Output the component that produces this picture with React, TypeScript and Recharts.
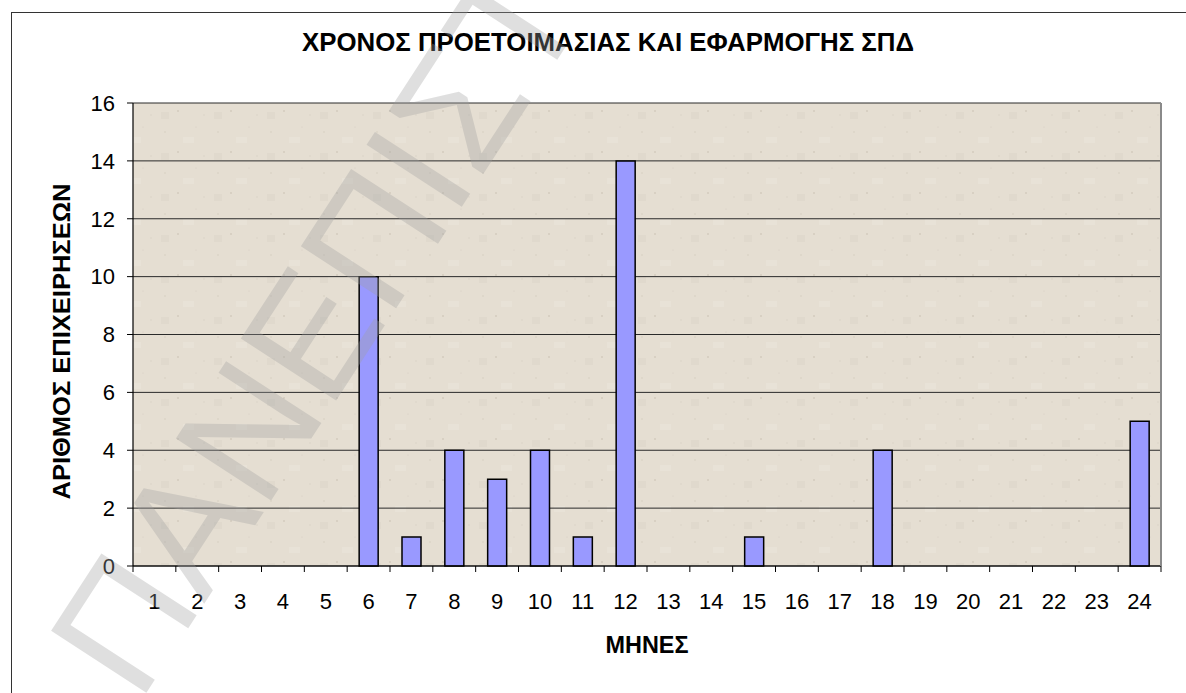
import React from 'react';
import { BarChart, Bar, XAxis, YAxis, CartesianGrid, Label } from 'recharts';

const months = ['1', '2', '3', '4', '5', '6', '7', '8', '9', '10', '11', '12', '13', '14', '15', '16', '17', '18', '19', '20', '21', '22', '23', '24'];
const companies = [0, 0, 0, 0, 0, 10, 1, 4, 3, 4, 1, 14, 0, 0, 1, 0, 0, 4, 0, 0, 0, 0, 0, 5];
const yTicks = [0, 2, 4, 6, 8, 10, 12, 14, 16];

const chartTitle = 'ΧΡΟΝΟΣ ΠΡΟΕΤΟΙΜΑΣΙΑΣ ΚΑΙ ΕΦΑΡΜΟΓΗΣ ΣΠΔ';
const xTitle = 'ΜΗΝΕΣ';
const yTitle = 'ΑΡΙΘΜΟΣ ΕΠΙΧΕΙΡΗΣΕΩΝ';
const watermark = 'ΠΑΝΕΠΙΣΤΗΜΙΟ';

const data = months.map((m, i) => ({ month: m, count: companies[i] }));

const FONT = '"Liberation Sans", Arial, sans-serif';

// ticks sit between the categories, the label in the middle (Excel style)
const MonthTick = (props: any) => {
  const { x, y, payload, index, visibleTicksCount } = props;
  const half = payload && payload.offset ? payload.offset : 21.4;
  const top = y - 27;
  const isLast = index === visibleTicksCount - 1;
  return (
    <g>
      <line x1={x - half} x2={x - half} y1={top} y2={top + 6} stroke="#000" strokeWidth={1} />
      {isLast && <line x1={x + half} x2={x + half} y1={top} y2={top + 6} stroke="#000" strokeWidth={1} />}
      <text x={x} y={y} dy="0.71em" textAnchor="middle" fontSize={22} fill="#000" fontFamily={FONT}>
        {payload.value}
      </text>
    </g>
  );
};

export default function App() {
  return (
    <div style={{ position: 'absolute', left: 0, top: 0, width: 1186, height: 693, overflow: 'hidden', background: '#fff' }}>
      {/* paper texture for the plot area */}
      <svg width={0} height={0} style={{ position: 'absolute' }}>
        <defs>
          <pattern id="paper" width={53} height={41} patternUnits="userSpaceOnUse">
            <rect width={53} height={41} fill="#E5DED2" />
            <circle cx={6} cy={9} r={0.8} fill="#b9b1a4" opacity={0.4} />
            <circle cx={37} cy={4} r={0.6} fill="#c4bcaf" opacity={0.5} />
            <circle cx={19} cy={29} r={1} fill="#a9a194" opacity={0.3} />
            <circle cx={45} cy={33} r={0.7} fill="#beb6a9" opacity={0.4} />
            <rect x={24} y={14} width={11} height={6} fill="#ece6dc" opacity={0.5} />
            <rect x={2} y={30} width={8} height={7} fill="#dad2c5" opacity={0.4} />
          </pattern>
        </defs>
      </svg>

      <div style={{ position: 'absolute', left: 11, top: 12, width: 3000, height: 3000, border: '1.5px solid #333' }} />

      <div style={{ position: 'absolute', left: 0, top: 0 }}>
        <BarChart
          width={1186}
          height={693}
          data={data}
          margin={{ top: 103, right: 24, left: 0, bottom: 47 }}
          barSize={19}
        >
          <CartesianGrid vertical={false} stroke="#2a2a2a" strokeWidth={1} fill="url(#paper)" fillOpacity={1} />
          <XAxis
            dataKey="month"
            interval={0}
            height={80}
            tickLine={false}
            tickSize={6}
            tickMargin={21}
            axisLine={{ stroke: '#000', strokeWidth: 1.2 }}
            tick={<MonthTick />}
          >
            <Label
              content={(p: any) => {
                const vb = p.viewBox;
                return (
                  <text x={vb.x + vb.width / 2} y={653} textAnchor="middle" fontSize={23} fontWeight="bold" fontFamily={FONT} fill="#000" textLength={83} lengthAdjust="spacingAndGlyphs">
                    {xTitle}
                  </text>
                );
              }}
            />
          </XAxis>
          <YAxis
            width={133}
            domain={[0, 16]}
            ticks={yTicks}
            interval={0}
            tickSize={6}
            tickMargin={12}
            axisLine={{ stroke: '#000', strokeWidth: 1.2 }}
            tickLine={{ stroke: '#000' }}
            tick={{ fill: '#000', fontSize: 22, fontFamily: FONT }}
          >
            <Label
              content={(p: any) => {
                const vb = p.viewBox;
                const cy = vb.y + vb.height / 2 + 7;
                return (
                  <text
                    x={61}
                    y={cy}
                    transform={`rotate(-90 61 ${cy})`}
                    textAnchor="middle"
                    dominantBaseline="central"
                    fontSize={24}
                    fontWeight="bold"
                    fontFamily={FONT}
                    fill="#000"
                    textLength={316}
                    lengthAdjust="spacingAndGlyphs"
                  >
                    {yTitle}
                  </text>
                );
              }}
            />
          </YAxis>
          <YAxis
            yAxisId="frame"
            orientation="right"
            width={1}
            domain={[0, 16]}
            tick={false}
            tickLine={false}
            axisLine={{ stroke: '#8a8a8a', strokeWidth: 2 }}
          />
          <Bar dataKey="count" fill="#9999FF" stroke="#000" strokeWidth={1.5} isAnimationActive={false} />
        </BarChart>
      </div>

      <svg width={1186} height={693} style={{ position: 'absolute', left: 0, top: 0, pointerEvents: 'none' }}>
        <text x={608} y={51} textAnchor="middle" fontSize={26} fontWeight="bold" fontFamily={FONT} fill="#000" textLength={612} lengthAdjust="spacingAndGlyphs">
          {chartTitle}
        </text>
        <text
          x={0}
          y={0}
          transform="translate(139 704) rotate(-57)"
          fontSize={165}
          fontFamily={FONT}
          fill="#a0a0a0"
          opacity={0.33}
        >
          {watermark}
        </text>
      </svg>
    </div>
  );
}
